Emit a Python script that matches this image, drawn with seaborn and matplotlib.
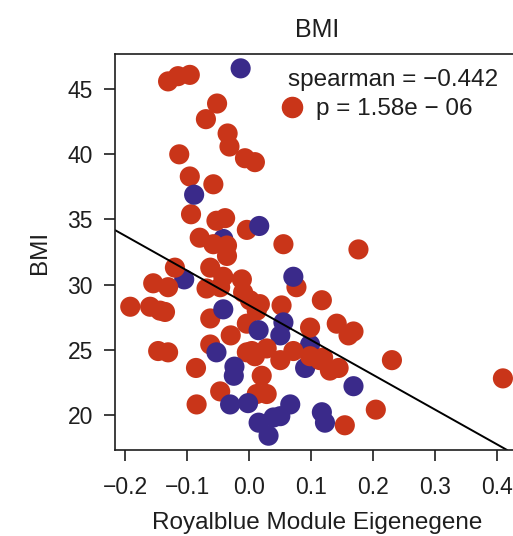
import seaborn as sns
import pandas as pd
import numpy as np
import matplotlib.pyplot as plt
from matplotlib.lines import Line2D

# values (eigengene vs BMI)
red_x = [-0.131, -0.115, -0.096, -0.052, -0.070, -0.035, -0.032, -0.007, 0.009, -0.113,
         -0.096, -0.058, -0.094, -0.053, -0.039, -0.004, 0.055, -0.080, -0.058, -0.036,
         -0.036, -0.120, -0.155, -0.131, -0.192, -0.160, -0.144, -0.136, -0.147, -0.131,
         -0.086, -0.085, -0.063, -0.042, -0.012, -0.069, -0.047, -0.010, 0.001, 0.017,
         -0.063, 0.012, -0.004, 0.052, 0.076, 0.117, 0.098, 0.141, 0.160, 0.168,
         -0.030, -0.063, 0.004, 0.028, 0.050, 0.071, 0.098, 0.114, 0.130, 0.144,
         0.119, -0.004, 0.009, 0.020, -0.047, 0.028, 0.012, 0.230, 0.154, 0.204,
         0.409, 0.176]
red_y = [45.6, 46.0, 46.1, 43.9, 42.7, 41.6, 40.6, 39.7, 39.4, 40.0,
         38.3, 37.7, 35.4, 34.9, 35.1, 34.2, 33.1, 33.6, 33.1, 33.0,
         32.2, 31.3, 30.1, 29.8, 28.3, 28.3, 28.0, 27.9, 24.9, 24.8,
         23.6, 20.8, 31.3, 30.6, 30.4, 29.7, 29.8, 29.4, 28.8, 28.5,
         27.4, 28.0, 27.0, 28.4, 29.8, 28.8, 26.7, 27.0, 26.1, 26.4,
         26.1, 25.4, 24.9, 25.1, 24.2, 24.9, 24.5, 24.2, 23.4, 23.6,
         24.4, 24.8, 24.5, 23.0, 21.8, 21.6, 21.6, 24.2, 19.2, 20.4,
         22.8, 32.7]

# blue points partly hidden behind the red ones
blue_back_x = [-0.042, -0.105, 0.050, 0.098, 0.090]
blue_back_y = [33.5, 30.4, 26.1, 25.4, 23.6]

# blue points drawn on top
blue_front_x = [-0.014, -0.089, 0.016, 0.071, -0.042, 0.015, 0.055, -0.053, -0.024, -0.025,
                -0.031, -0.002, 0.015, 0.031, 0.039, 0.050, 0.066, 0.168, 0.117, 0.122]
blue_front_y = [46.6, 36.9, 34.5, 30.6, 28.1, 26.5, 27.1, 24.8, 23.7, 23.0,
                20.8, 20.9, 19.4, 18.4, 19.8, 19.9, 20.8, 22.2, 20.2, 19.4]

# fitted line and stats as printed in the reference
fit_intercept = 28.4
fit_slope = -26.7
spearman_txt = 'spearman = \u22120.442'
p_txt = 'p = 1.58e \u2212 06'

color_red = '#c93519'
color_blue = '#3a2a8a'
ink = '#1e1e1e'

df = pd.concat([
    pd.DataFrame({'x': blue_back_x, 'y': blue_back_y, 'grp': 'blue'}),
    pd.DataFrame({'x': red_x, 'y': red_y, 'grp': 'red'}),
    pd.DataFrame({'x': blue_front_x, 'y': blue_front_y, 'grp': 'blue'}),
], ignore_index=True)

sns.set_style('ticks')
plt.rcParams['font.family'] = ['Liberation Sans', 'DejaVu Sans']

fig = plt.figure(figsize=(5.13, 5.36), dpi=100)
ax = fig.add_axes([0.2242, 0.1604, 0.7895, 0.7388])

sns.scatterplot(data=df, x='x', y='y', hue='grp', palette={'red': color_red, 'blue': color_blue},
                s=210, linewidth=0, alpha=1, legend=False, ax=ax)
ax.axline((0, fit_intercept), slope=fit_slope, color='black', linewidth=1.4, zorder=1)

ax.set_xlim(-0.2166, 0.4366)
ax.set_ylim(17.3, 47.7)
ax.set_xticks([-0.2, -0.1, 0.0, 0.1, 0.2, 0.3, 0.4])
ax.set_xticklabels(['\u22120.2', '\u22120.1', '0.0', '0.1', '0.2', '0.3', '0.4'])
ax.set_yticks([20, 25, 30, 35, 40, 45])

for sp in ax.spines.values():
    sp.set_visible(True)
    sp.set_linewidth(1.2)
    sp.set_color(ink)
ax.tick_params(axis='both', direction='out', length=8, width=1.2, color=ink,
               labelsize=16.5, labelcolor=ink)
ax.tick_params(axis='x', pad=11)
ax.tick_params(axis='y', pad=8)

ax.set_title('BMI', fontsize=18, pad=12, color=ink)
ax.set_xlabel('Royalblue Module Eigenegene', fontsize=17.5, labelpad=9, color=ink)
ax.set_ylabel('BMI', fontsize=17.5, labelpad=12, color=ink)

ax.text(0.427, 0.934, spearman_txt, transform=ax.transAxes, fontsize=17.5,
        va='center', ha='left', color=ink)
handle = Line2D([], [], marker='o', linestyle='', color=color_red, markersize=14.5)
ax.legend([handle], [p_txt], loc='center left', bbox_to_anchor=(0.406, 0.86),
          frameon=False, fontsize=17.5, handlelength=1.0, handletextpad=0.5,
          borderpad=0, borderaxespad=0, labelcolor=ink)

fig.savefig('out.png', dpi=100)
